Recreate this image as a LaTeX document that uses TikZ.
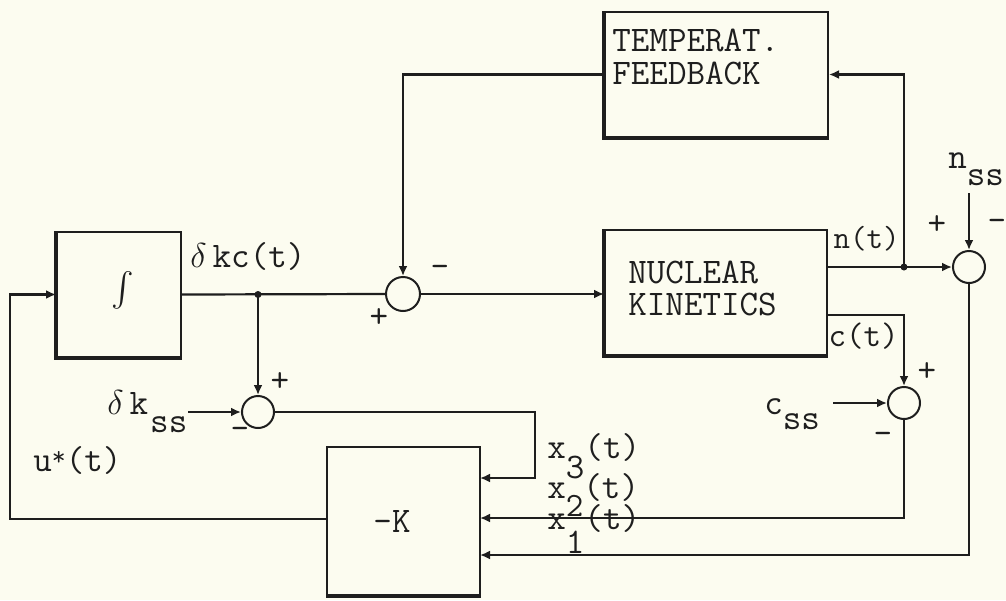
\documentclass[tikz,border=0pt]{standalone}
\usepackage{fontspec}
\usepackage{graphicx}
\usetikzlibrary{arrows.meta,calc}
\definecolor{paper}{RGB}{252,252,240}
\definecolor{ink}{RGB}{30,30,30}
\newcommand\lowr[2]{\raisebox{-#1}{#2}}
\newcommand\dlt{\kern1pt$\delta$\kern3pt}
\begin{document}
\begin{tikzpicture}[x=0.5pt,y=-0.5pt,
  font=\ttfamily\fontsize{18}{21}\selectfont,
  box/.style={draw=ink, line width=1pt, inner sep=0pt},
  sumnode/.style={circle, draw=ink, line width=1pt, inner sep=0pt},
  wire/.style={draw=ink, line width=1.1pt},
  arr/.style={wire, -{Latex[length=5pt,width=4.5pt]}},
  heavy/.style={draw=ink, line width=2.4pt},
  lbl/.style={text=ink, inner sep=0pt},
  dot/.style={circle, fill=ink, minimum size=3.5pt, inner sep=0pt}]
\useasboundingbox[fill=paper] (0,0) rectangle (1006,600);

% blocks
\node[box, minimum width=62pt, minimum height=62.5pt] (integ) at (119,294.5) {};
\node[lbl] (intsym) at (123,290) {\scalebox{1.7}{$\int$}};
\node[box, minimum width=111.5pt, minimum height=62.5pt] (temp) at (716.5,74.5) {};
\node[box, minimum width=111pt, minimum height=62.5pt] (nuc) at (716,292.5) {};
\node[box, minimum width=76.5pt, minimum height=74pt, label={[lbl,xshift=-5.75pt]center:-K}] (gain) at (403.5,521) {};
\draw[heavy] (integ.north west) -- (integ.south west) -- (integ.south east);
\draw[heavy] (temp.north west) -- (temp.south west) -- (temp.south east);
\draw[heavy] (nuc.north west) -- (nuc.south west) -- (nuc.south east);
\draw[heavy] (gain.south west) -- (gain.south east);

\node[lbl, anchor=north west, align=left, font=\ttfamily\fontsize{18}{16.5}\selectfont] (temptxt) at (612,29) {TEMPERAT.\\FEEDBACK};
\node[lbl, anchor=north west, align=left, font=\ttfamily\fontsize{18}{16}\selectfont] (nuctxt) at (628,261) {NUCLEAR\\KINETICS};

% summing junctions
\node[sumnode, minimum size=17pt] (s1) at (403,294) {};
\node[sumnode, minimum size=16pt] (s2) at (258,412) {};
\node[sumnode, minimum size=16pt] (s3) at (969,267) {};
\node[sumnode, minimum size=16pt] (s4) at (904,403) {};

% coordinates
\coordinate (j1) at (s2 |- integ.east);
\coordinate (dks) at (188,412);
\coordinate (x3c) at (535,412);
\coordinate (g3) at (480,478);
\coordinate (g2) at (480,518);
\coordinate (g1) at (480,555);
\coordinate (gout) at (327,519);
\coordinate (uc) at (10,519);
\coordinate (nout) at (nuc.east |- s3.west);
\coordinate (j2) at (s4 |- s3.west);
\coordinate (cout) at ($(nuc.east)+(0,22.5)$);
\coordinate (css) at (833,403);
\coordinate (nssc) at (969,193);

% connectors
\draw[arr] (gout) -- (uc) |- (integ.west);
\draw[wire] (integ.east) -- (s1.west);
\draw[arr] (j1) -- (s2.north);
\node[dot] (d1) at (j1) {};
\draw[arr] (dks) -- (s2.west);
\draw[arr] (s2.east) -- (x3c) |- (g3);
\draw[arr] (s1.east) -- (s1.east -| nuc.west);
\draw[arr] (temp.west) -| (s1.north);
\draw[arr] (nout) -- (s3.west);
\draw[arr] (j2) |- (temp.east);
\node[dot] (d2) at (j2) {};
\draw[arr] (cout) -| (s4.north);
\draw[arr] (css) -- (s4.west);
\draw[arr] (nssc) -- (s3.north);
\draw[arr] (s4.south) |- (g2);
\draw[arr] (s3.south) |- (g1);

% labels
\node[lbl, anchor=base west] (dkc) at (188,267) {\dlt kc(t)};
\node[lbl, anchor=base east, font=\ttfamily\fontsize{16}{16}\selectfont] (nt) at (900,248) {n(t)};
\node[lbl, anchor=base east, font=\ttfamily\fontsize{17}{17}\selectfont] (ct) at (899,346) {c(t)};
\node[lbl, anchor=base west] (nsslbl) at (948,168.5) {n\lowr{8.5pt}{ss}};
\node[lbl, anchor=base west] (csslbl) at (764,414.5) {c\lowr{7.5pt}{ss}};
\node[lbl, anchor=base west] (dksslbl) at (105,414) {\dlt k\kern1pt\lowr{9pt}{ss}};
\node[lbl, anchor=base west] (ulbl) at (33,471) {u\raisebox{3pt}{\scalebox{0.75}{*}}(t)};
\node[lbl, anchor=base west] (x3l) at (547,458.5) {x\lowr{10pt}{3}(t)};
\node[lbl, anchor=base west] (x2l) at (547,498.5) {x\lowr{9pt}{\fontsize{17}{17}\selectfont 2}(t)};
\node[lbl, anchor=base west] (x1l) at (547,529.5) {x\lowr{12pt}{1}(t)};

% signs
\node[lbl] (s1m) at (440,271) {-};
\node[lbl] (s1p) at (379,318) {+};
\node[lbl] (s2p) at (280,382) {+};
\node[lbl] (s2m) at (240,433) {-};
\node[lbl] (s3p) at (937,225) {+};
\node[lbl] (s3m) at (997,225) {-};
\node[lbl] (s4p) at (927,372) {+};
\node[lbl] (s4m) at (883,438) {-};
\end{tikzpicture}
\end{document}
